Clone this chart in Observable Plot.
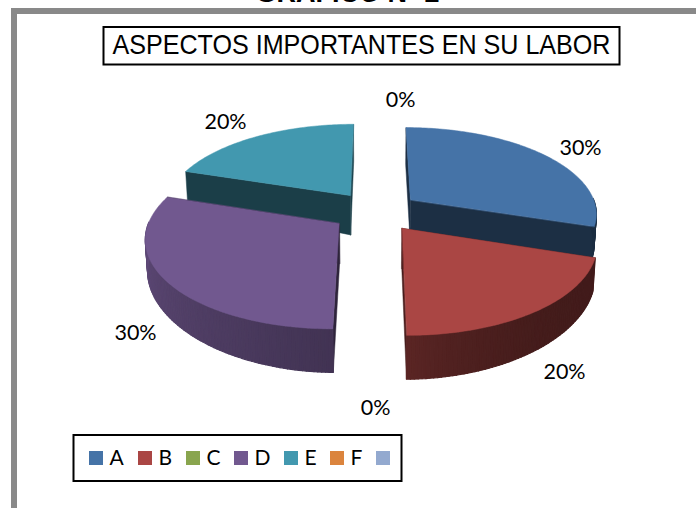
<!DOCTYPE html>
<html><head><meta charset="utf-8">
<script src="https://cdn.jsdelivr.net/npm/d3@7"></script>
<script src="https://cdn.jsdelivr.net/npm/@observablehq/plot@0.6"></script>
<style>html,body{margin:0;padding:0;background:#fff;overflow:hidden}svg{display:block}</style>
</head><body><div id="chart"></div>
<script>
// ---- data
const categories = ["A","B","C","D","E","F",""];
const values = [30,20,0,30,20,0,0];
const colors = ["#4573a7","#aa4644","#89a54e","#71588f","#4298af","#db843d","#93a9cf"];
const percentLabels = ["30%","20%","0%","30%","20%","0%"];

// ---- layout
const labelX = [580,564,375,135,225,400];
const labelY = [148,372,408,333,122,100];
const legendX = [89,138,186,234,284,330,376];
const topTitle = "GRÁFICO Nº 2";
const chartTitle = "ASPECTOS IMPORTANTES EN SU LABOR";

// ---- 3-D pie projection
const Cx=375, Cy=211, B=187, A=86, K=0.146, EXPL=0.235;
const rad = d => d*Math.PI/180;
function proj(theta, r, offX, offZ, bottom){
  const X = offX + r*Math.sin(rad(theta)), Z = offZ + r*Math.cos(rad(theta));
  const s = 1/(1+K*Z);
  let x = Cx + B*X*s, y = Cy - A*Z*s;
  if(bottom){ x = Cx + (x-Cx)*0.99; y += 40*Math.sqrt(s) - 7*X*X; }
  return [x,y];
}
const shade = (c,f)=>{const q=d3.rgb(c);return d3.rgb(q.r*f,q.g*f,q.b*f).formatHex();};
const total = d3.sum(values);
let acc=0;
const slices = values.map((v,i)=>{const a0=acc/total*360; acc+=v; return {i,v,a0,a1:acc/total*360,c:colors[i]};}).filter(d=>d.v>0);
const points=[]; let pid=0;
function poly(pts,fill,w){const id=pid++; pts.forEach(p=>points.push({id,x:p[0],y:p[1],fill,w}));}
const wallShade = t => t<=180 ? 0.39+0.14*Math.pow((t-108)/72,3) : 0.58+0.27*(t-180)/90;
function drawSlice(sl){
  const mid=(sl.a0+sl.a1)/2, ox=EXPL*Math.sin(rad(mid)), oz=EXPL*Math.cos(rad(mid));
  const P=(t,r,b)=>proj(t,r,ox,oz,b);
  for(const t of [sl.a0,sl.a1]){
    poly([P(t,0,false),P(t,1,false),P(t,1,true),P(t,0,true)],shade(sl.c,0.41),0.5);
  }
  for(let t=sl.a0;t<sl.a1;t+=1){
    const t2=Math.min(t+1,sl.a1);
    if(t2<90||t>270) continue;
    poly([P(t,1,false),P(t2,1,false),P(t2,1,true),P(t,1,true)],shade(sl.c,wallShade((t+t2)/2)),1.2);
  }
  const top=[P(0,0,false)];
  for(let t=sl.a0;t<=sl.a1+1e-6;t+=1) top.push(P(t,1,false));
  poly(top,sl.c,0.5);
}
// painter's order: back slices first
[4,0,3,1].forEach(i=>drawSlice(slices.find(s=>s.i===i)));

const labels = percentLabels.map((t,i)=>({t,x:labelX[i],y:labelY[i]}));
const legend = categories.map((c,i)=>({c,x:legendX[i],color:colors[i]}));
const FRAME="#898989";
const plot = Plot.plot({
  width:696,height:508,margin:0,
  style:{background:"#fff",overflow:"hidden"},
  x:{domain:[0,696],range:[0,696],axis:null},
  y:{domain:[0,508],range:[0,508],axis:null},
  color:{type:"identity"},
  marks:[
    // outer frame
    Plot.rect([{}],{x1:11,x2:696,y1:8,y2:14,fill:FRAME}),
    Plot.rect([{}],{x1:11,x2:17,y1:8,y2:508,fill:FRAME}),
    Plot.text([topTitle],{x:347,y:1.5,text:d=>d,fontFamily:"Liberation Sans",fontWeight:"bold",fontSize:27,fill:"#000",lineAnchor:"bottom",className:"topT"}),
    // title box
    Plot.rect([{}],{x1:103.5,x2:619.5,y1:27,y2:64.5,fill:"#fff",stroke:"#000",strokeWidth:2}),
    Plot.text([chartTitle],{x:361,y:45,text:d=>d,fontFamily:"Liberation Sans",fontSize:28,fill:"#000",textAnchor:"middle",className:"chartT"}),
    // pie
    Plot.line(points,{x:"x",y:"y",z:"id",fill:"fill",stroke:"fill",strokeWidth:"w",curve:"linear-closed"}),
    // percent labels
    Plot.text(labels,{x:"x",y:"y",text:"t",fontFamily:"Lato",fontSize:21.5,fill:"#000"}),
    // legend
    Plot.rect([{}],{x1:73.5,x2:401.5,y1:435,y2:481,fill:"#fff",stroke:"#000",strokeWidth:2}),
    Plot.rect(legend,{x1:"x",x2:d=>d.x+14,y1:451,y2:465,fill:"color"}),
    Plot.text(legend,{x:d=>d.x+20,y:458,text:"c",fontFamily:"Lato",fontSize:21,fill:"#000",textAnchor:"start"})
  ]
});
d3.select(plot).selectAll(".chartT text").attr("textLength",498).attr("lengthAdjust","spacingAndGlyphs");
document.getElementById("chart").append(plot);
</script></body></html>
